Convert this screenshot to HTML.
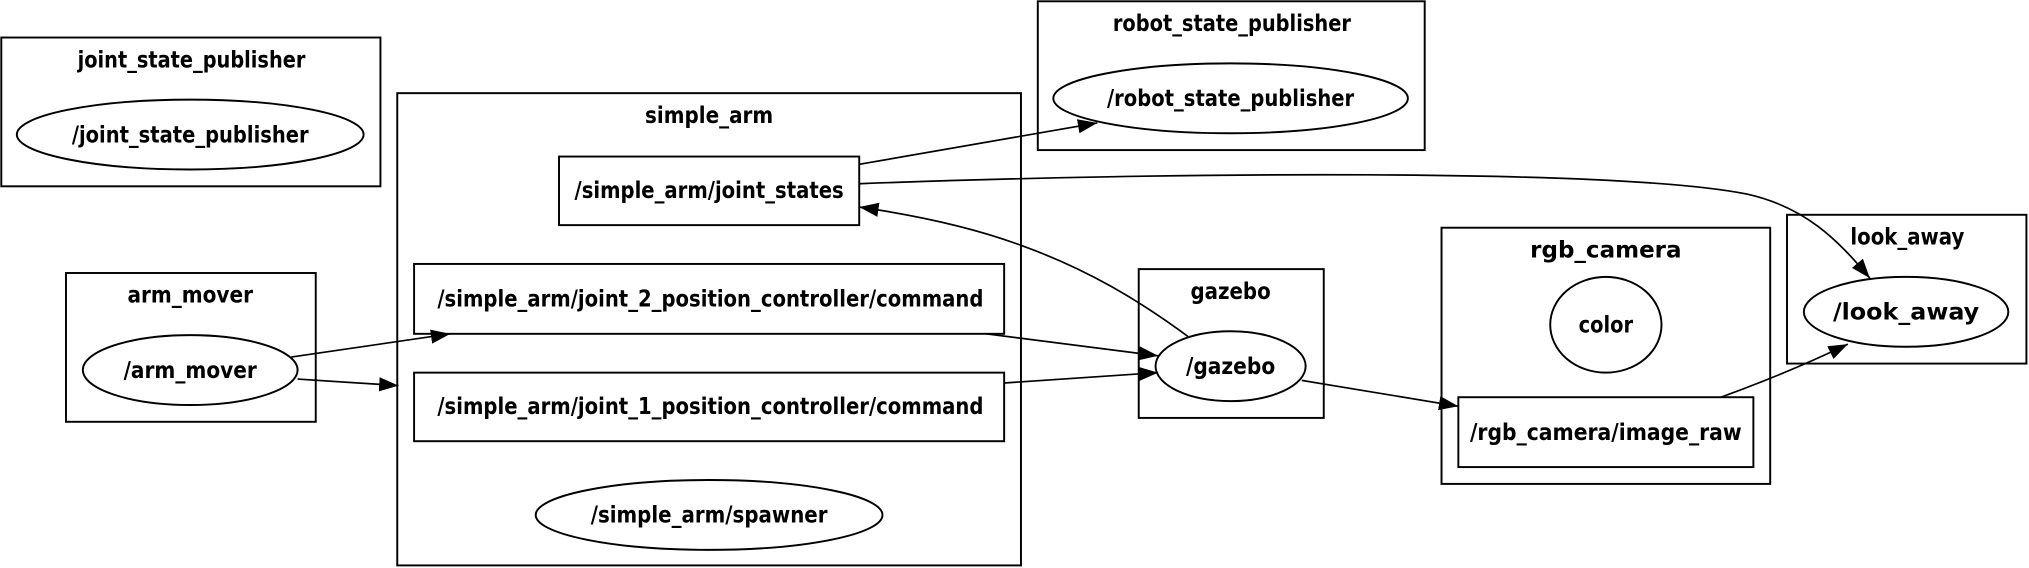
<!DOCTYPE html>
<html><head><meta charset="utf-8"><style>
html,body{margin:0;padding:0;background:#fff;}
svg{display:block;}
text{font-family:"DejaVu Sans","Liberation Sans",sans-serif;font-weight:bold;font-size:18px;text-anchor:middle;fill:#000;}
</style></head><body>
<svg width="2029" height="568" viewBox="0 0 1568 439" preserveAspectRatio="none" xmlns="http://www.w3.org/2000/svg">
<defs>
<marker id="a" markerUnits="userSpaceOnUse" markerWidth="16" markerHeight="13" refX="15" refY="5.5" orient="auto">
<path d="M0,0 L15,5.5 L0,11 z" fill="#000"/>
</marker>
</defs>
<g fill="none" stroke="#000" stroke-width="1.5">
<rect x="1" y="29" width="293" height="115"/>
<ellipse cx="147" cy="104" rx="134" ry="27"/>
<rect x="307" y="72" width="482" height="365"/>
<rect x="432" y="121" width="232" height="53"/>
<rect x="320" y="204" width="456" height="54"/>
<rect x="320" y="288" width="456" height="53"/>
<ellipse cx="548" cy="398" rx="134" ry="27"/>
<rect x="51" y="211" width="193" height="115"/>
<ellipse cx="147" cy="286" rx="83" ry="27"/>
<rect x="802" y="1" width="299" height="115"/>
<ellipse cx="951" cy="76" rx="137" ry="27"/>
<rect x="880" y="208" width="143" height="115"/>
<ellipse cx="951" cy="283" rx="58" ry="27"/>
<rect x="1114" y="176" width="254" height="198"/>
<ellipse cx="1241" cy="251" rx="43" ry="37"/>
<rect x="1127" y="307" width="228" height="54"/>
<rect x="1381" y="166" width="185" height="115"/>
<ellipse cx="1473" cy="241" rx="79" ry="27"/>
</g>
<g fill="none" stroke="#000" stroke-width="1.3">
<path d="M664,127 L848,95" marker-end="url(#a)"/>
<path d="M664,142 C900,133 1250,130 1350,150 C1395,160 1420,185 1445,215" marker-end="url(#a)"/>
<path d="M918,260 C880,232 840,208 790,190 C750,175 705,166 664,160" marker-end="url(#a)"/>
<path d="M225,276 L348,258" marker-end="url(#a)"/>
<path d="M230,293 L308,298" marker-end="url(#a)"/>
<path d="M762,258 L895,275" marker-end="url(#a)"/>
<path d="M776,296 L895,288" marker-end="url(#a)"/>
<path d="M1006,294 L1127,314" marker-end="url(#a)"/>
<path d="M1330,307 C1360,296 1395,282 1428,266" marker-end="url(#a)"/>
</g>
<text x="148" y="52" textLength="176" lengthAdjust="spacingAndGlyphs">joint_state_publisher</text>
<text x="147" y="110" textLength="183" lengthAdjust="spacingAndGlyphs">/joint_state_publisher</text>
<text x="548" y="95" textLength="99" lengthAdjust="spacingAndGlyphs">simple_arm</text>
<text x="548" y="153" textLength="208" lengthAdjust="spacingAndGlyphs">/simple_arm/joint_states</text>
<text x="549" y="237" textLength="422" lengthAdjust="spacingAndGlyphs">/simple_arm/joint_2_position_controller/command</text>
<text x="549" y="320" textLength="422" lengthAdjust="spacingAndGlyphs">/simple_arm/joint_1_position_controller/command</text>
<text x="548" y="404" textLength="183" lengthAdjust="spacingAndGlyphs">/simple_arm/spawner</text>
<text x="147" y="234" textLength="97" lengthAdjust="spacingAndGlyphs">arm_mover</text>
<text x="147" y="292" textLength="103" lengthAdjust="spacingAndGlyphs">/arm_mover</text>
<text x="952" y="24" textLength="184" lengthAdjust="spacingAndGlyphs">robot_state_publisher</text>
<text x="951" y="82" textLength="191" lengthAdjust="spacingAndGlyphs">/robot_state_publisher</text>
<text x="951" y="231" textLength="62" lengthAdjust="spacingAndGlyphs">gazebo</text>
<text x="951" y="289" textLength="69" lengthAdjust="spacingAndGlyphs">/gazebo</text>
<text x="1241" y="199" textLength="117" lengthAdjust="spacingAndGlyphs">rgb_camera</text>
<text x="1241" y="257" textLength="42" lengthAdjust="spacingAndGlyphs">color</text>
<text x="1241" y="340" textLength="210" lengthAdjust="spacingAndGlyphs">/rgb_camera/image_raw</text>
<text x="1474" y="189" textLength="88" lengthAdjust="spacingAndGlyphs">look_away</text>
<text x="1473" y="247" textLength="113" lengthAdjust="spacingAndGlyphs">/look_away</text>
</svg>
</body></html>
